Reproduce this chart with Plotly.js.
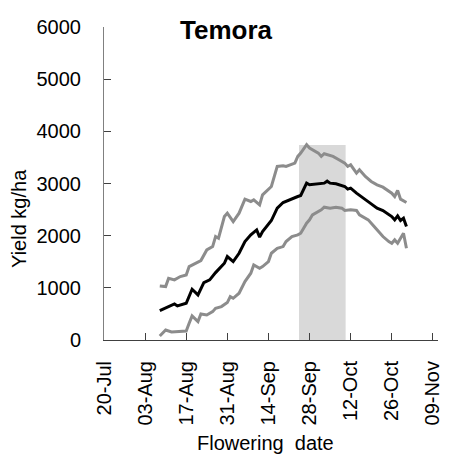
<!DOCTYPE html>
<html>
<head>
<meta charset="utf-8">
<script src="https://cdn.plot.ly/plotly-3.0.1.min.js"></script>
<style>
  html, body { margin: 0; padding: 0; background: #fff; }
  #chart { width: 461px; height: 472px; }
</style>
</head>
<body>
<div id="chart"></div>
<script>
// Median yield (black)
const medianDates = ['2020-08-08','2020-08-10','2020-08-13','2020-08-14','2020-08-17','2020-08-19','2020-08-21','2020-08-23','2020-08-25','2020-08-27','2020-08-30','2020-08-31','2020-09-02','2020-09-04','2020-09-06','2020-09-08','2020-09-10','2020-09-11','2020-09-12','2020-09-15','2020-09-17','2020-09-19','2020-09-21','2020-09-24','2020-09-25','2020-09-27','2020-09-28','2020-10-01','2020-10-03','2020-10-04','2020-10-05','2020-10-07','2020-10-10','2020-10-11','2020-10-12','2020-10-14','2020-10-17','2020-10-19','2020-10-21','2020-10-23','2020-10-26','2020-10-27','2020-10-28','2020-10-29','2020-10-30','2020-10-31'];
const medianYield = [563,608,691,653,704,972,864,1100,1152,1292,1471,1600,1504,1663,1887,2015,2111,1971,2079,2290,2527,2636,2687,2751,2770,3007,2975,2988,3007,3045,3007,2994,2943,2892,2911,2815,2700,2610,2527,2482,2367,2303,2380,2290,2335,2175];

// Upper bound (grey)
const upperDates = ['2020-08-08','2020-08-10','2020-08-11','2020-08-13','2020-08-15','2020-08-17','2020-08-18','2020-08-21','2020-08-22','2020-08-24','2020-08-26','2020-08-27','2020-08-28','2020-08-30','2020-08-31','2020-09-02','2020-09-04','2020-09-06','2020-09-08','2020-09-09','2020-09-11','2020-09-12','2020-09-15','2020-09-17','2020-09-19','2020-09-20','2020-09-23','2020-09-24','2020-09-25','2020-09-27','2020-09-28','2020-10-01','2020-10-02','2020-10-03','2020-10-06','2020-10-08','2020-10-10','2020-10-11','2020-10-12','2020-10-14','2020-10-15','2020-10-17','2020-10-19','2020-10-21','2020-10-23','2020-10-26','2020-10-27','2020-10-28','2020-10-29','2020-10-31'];
const upperYield = [1036,1024,1184,1152,1216,1248,1408,1504,1523,1727,1791,1983,1951,2367,2431,2271,2431,2700,2655,2687,2591,2783,2943,3327,3340,3327,3391,3519,3583,3743,3679,3583,3519,3570,3519,3455,3391,3327,3359,3199,3263,3135,3039,2975,2930,2815,2751,2866,2700,2636];

// Lower bound (grey)
const lowerDates = ['2020-08-08','2020-08-10','2020-08-12','2020-08-13','2020-08-15','2020-08-17','2020-08-18','2020-08-19','2020-08-21','2020-08-22','2020-08-24','2020-08-26','2020-08-27','2020-08-29','2020-08-31','2020-09-01','2020-09-02','2020-09-04','2020-09-06','2020-09-08','2020-09-09','2020-09-11','2020-09-12','2020-09-14','2020-09-15','2020-09-17','2020-09-19','2020-09-20','2020-09-22','2020-09-24','2020-09-25','2020-09-27','2020-09-28','2020-09-29','2020-10-02','2020-10-03','2020-10-05','2020-10-07','2020-10-09','2020-10-10','2020-10-12','2020-10-14','2020-10-15','2020-10-18','2020-10-20','2020-10-22','2020-10-23','2020-10-25','2020-10-26','2020-10-27','2020-10-28','2020-10-30','2020-10-31'];
const lowerYield = [77,192,154,160,160,173,320,461,352,499,480,544,608,640,717,832,800,896,1120,1280,1440,1376,1408,1504,1663,1759,1791,1887,1983,2015,2047,2239,2303,2399,2495,2546,2527,2546,2527,2482,2495,2482,2399,2303,2175,2047,1983,1887,1855,1919,1855,2047,1759];

// Shaded flowering window
const windowDates = ['2020-09-24 10:00', '2020-10-10 07:00'];
const windowTop = 3740;

const tickDates = ['2020-07-20','2020-08-03','2020-08-17','2020-08-31','2020-09-14','2020-09-28','2020-10-12','2020-10-26','2020-11-09'];
const tickLabels = ['20-Jul','03-Aug','17-Aug','31-Aug','14-Sep','28-Sep','12-Oct','26-Oct','09-Nov'];
const yTicks = [0,1000,2000,3000,4000,5000,6000];

const font = 'Liberation Sans, Arial, sans-serif';

const traces = [
  { x: upperDates, y: upperYield, type: 'scatter', mode: 'lines',
    line: { color: '#8c8c8c', width: 3 }, hoverinfo: 'skip' },
  { x: lowerDates, y: lowerYield, type: 'scatter', mode: 'lines',
    line: { color: '#8c8c8c', width: 3 }, hoverinfo: 'skip' },
  { x: medianDates, y: medianYield, type: 'scatter', mode: 'lines',
    line: { color: '#000000', width: 3 }, hoverinfo: 'skip' }
];

const layout = {
  width: 461, height: 472,
  margin: { l: 104, r: 23, t: 27, b: 132 },
  paper_bgcolor: '#ffffff', plot_bgcolor: '#ffffff',
  showlegend: false,
  font: { family: font, size: 20, color: '#000' },
  xaxis: {
    type: 'date',
    range: ['2020-07-20', '2020-11-10 18:00'],
    tickmode: 'array', tickvals: tickDates, ticktext: tickLabels,
    tickangle: -90,
    ticks: 'inside', ticklen: 7, tickcolor: '#404040', tickwidth: 1,
    showline: true, linecolor: '#404040', linewidth: 1,
    showgrid: false, zeroline: false,
    tickfont: { family: font, size: 20, color: '#000' },
    ticklabelstandoff: 12
  },
  yaxis: {
    range: [0, 6000],
    tickmode: 'array', tickvals: yTicks,
    ticks: 'inside', ticklen: 7, tickcolor: '#404040', tickwidth: 1,
    showline: true, linecolor: '#808080', linewidth: 1,
    showgrid: false, zeroline: false,
    tickfont: { family: font, size: 20, color: '#000' },
    ticklabelstandoff: 18
  },
  shapes: [{
    type: 'rect', xref: 'x', yref: 'y', layer: 'below',
    x0: windowDates[0], x1: windowDates[1], y0: 0, y1: windowTop,
    fillcolor: '#d9d9d9', line: { width: 0 }
  }],
  annotations: [
    { text: '<b>Temora</b>', xref: 'paper', yref: 'paper', x: 0.367, y: 0.99,
      xanchor: 'center', yanchor: 'middle', showarrow: false,
      font: { family: font, size: 26, color: '#000' } },
    { text: 'Yield kg/ha', xref: 'paper', yref: 'paper', x: -0.2545, y: 0.39,
      xanchor: 'center', yanchor: 'middle', textangle: -90, showarrow: false,
      font: { family: font, size: 20, color: '#000' } },
    { text: 'Flowering  date', xref: 'paper', yref: 'paper', x: 0.485, y: -0.329,
      xanchor: 'center', yanchor: 'middle', showarrow: false,
      font: { family: font, size: 20, color: '#000' } }
  ]
};

Plotly.newPlot('chart', traces, layout, { displayModeBar: false, staticPlot: true });
</script>
</body>
</html>
